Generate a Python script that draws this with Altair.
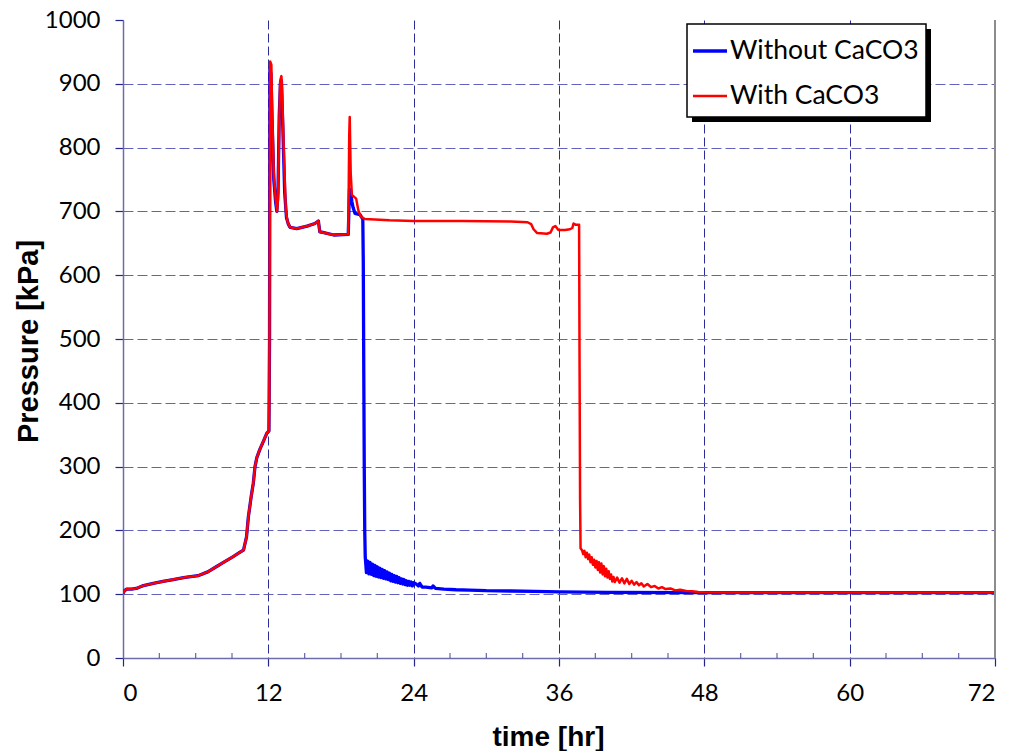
import altair as alt
import pandas as pd

# ---- measured pressure traces (time in hours, pressure in kPa) ----
# heating ramp, identical for both runs
shared_time = [0.0, 0.1, 0.3, 0.7, 1.1, 1.6, 2.5, 3.3, 4.15, 5.0, 6.2, 7.0, 7.7, 8.4,
               9.1, 9.6, 9.95, 10.2, 10.35, 10.6, 10.76, 10.9, 11.05, 11.3, 11.6, 11.87, 12.05]
shared_pressure = [101, 105, 108, 108, 109, 113, 117, 120, 123, 126, 129, 135, 143, 151,
                   159, 165, 169, 190, 221, 255, 274, 300, 314, 327, 340, 352, 356]

without_time = [12.1, 12.13, 12.22, 12.3, 12.45, 12.6, 12.7, 12.8, 12.9, 13.0, 13.08, 13.2,
                13.35, 13.5, 13.65, 13.8, 14.35, 15.2, 15.85, 16.13, 16.25, 16.5, 17.4, 18.6,
                18.7, 18.8, 18.9, 19.0, 19.15, 19.57, 19.8, 19.84, 19.88, 19.92, 19.96,
                20.0, 20.1, 20.2, 20.3, 20.4, 20.5, 20.6, 20.7, 20.8, 20.9, 21.0, 21.1, 21.2,
                21.3, 21.4, 21.5, 21.6, 21.7, 21.8, 21.9, 22.0, 22.1, 22.2, 22.3, 22.4, 22.5,
                22.6, 22.7, 22.8, 22.9, 23.0, 23.1, 23.2, 23.3, 23.4, 23.5, 23.6, 23.7, 23.8,
                23.9, 24.0, 24.2, 24.4, 24.5, 24.7, 25.0, 25.5, 25.6, 25.8, 26.5, 27.5, 28.6,
                30.0, 32.0, 34.0, 35.0, 36.0, 40.0, 48.0, 60.0, 72.0]
without_pressure = [500, 925, 915, 850, 750, 715, 700, 730, 850, 900, 905, 830,
                    730, 690, 680, 675, 673, 677, 681, 685, 668, 667, 663, 664,
                    735, 730, 715, 706, 697, 695, 688, 620, 450, 300, 200,
                    159, 134, 152, 132, 150, 131, 147, 129, 145, 128, 143, 127, 141,
                    126, 139, 125, 137, 124, 135, 123, 133, 121, 131, 120, 129, 119,
                    128, 118, 126, 117, 124, 116, 123, 115, 121, 114, 120, 114, 119,
                    113, 118, 116, 113, 117, 111, 111, 110, 113, 109, 108, 107, 106.5,
                    105.5, 105, 104.5, 104, 103.5, 103, 102.5, 102.5, 102.5]

with_time = [12.08, 12.15, 12.25, 12.3, 12.45, 12.6, 12.72, 12.8, 12.9, 12.98, 13.08, 13.15,
             13.3, 13.45, 13.6, 13.8, 14.35, 15.2, 15.85, 16.13, 16.25, 16.5, 17.4, 18.6,
             18.68, 18.72, 18.8, 18.9, 19.25, 19.43, 19.63, 19.98, 22.0, 24.0, 28.0, 32.0,
             33.4, 33.7, 33.9, 34.2, 35.0, 35.3, 35.5, 35.7, 35.95, 36.5, 36.9, 37.1, 37.2,
             37.4, 37.6, 37.66, 37.7, 37.74, 37.78, 37.9, 38.0, 38.1, 38.2, 38.3, 38.4, 38.5,
             38.6, 38.7, 38.8, 38.9, 39.0, 39.1, 39.2, 39.3, 39.4, 39.5, 39.6, 39.7, 39.8,
             39.9, 40.0, 40.1, 40.2, 40.3, 40.4, 40.5, 40.6, 40.8, 41.0, 41.2, 41.4, 41.6,
             41.8, 42.0, 42.2, 42.4, 42.6, 42.8, 43.0, 43.3, 43.6, 43.9, 44.2, 44.5, 44.8,
             45.2, 45.6, 46.0, 46.5, 47.0, 47.5, 48.0, 50.0, 60.0, 72.0]
with_pressure = [400, 935, 930, 870, 760, 720, 700, 720, 840, 905, 912, 880,
                 780, 700, 683, 675, 673, 677, 681, 685, 668, 667, 663, 664,
                 820, 848, 760, 726, 720, 702, 692, 688, 686, 685, 685, 684,
                 683, 680, 672, 666, 665, 667, 675, 677, 671, 671, 672, 674, 681,
                 679, 679, 679, 450, 250, 172, 169, 163, 168, 158, 165, 155, 162,
                 150, 158, 146, 154, 142, 152, 138, 150, 134, 148, 131, 144, 128,
                 140, 126, 136, 124, 131, 120, 127, 119, 126, 118, 125, 117, 124,
                 116, 121, 115, 119, 114, 117, 112, 116, 111, 113, 109, 111, 108,
                 109, 106, 107, 105, 104.5, 103.5, 103, 102.5, 102.5, 102.5]

series_names = ["Without CaCO3", "With CaCO3"]
series_colors = ["#0000ff", "#ff0000"]
series_widths = [3.3, 2.5]

x_major = [0, 12, 24, 36, 48, 60, 72]
x_minor = [3, 6, 9, 15, 18, 21, 27, 30, 33, 39, 42, 45, 51, 54, 57, 63, 66, 69]
y_major = [0, 100, 200, 300, 400, 500, 600, 700, 800, 900, 1000]

rows = []
for name, t_tail, p_tail in [(series_names[0], without_time, without_pressure),
                             (series_names[1], with_time, with_pressure)]:
    ts = shared_time + t_tail
    ps = shared_pressure + p_tail
    for i, (t, p) in enumerate(zip(ts, ps)):
        rows.append({"series": name, "t": t, "p": p, "idx": i})
df = pd.DataFrame(rows)

W, H = 872, 638
NAVY = "#24248a"
AXIS_LINE = "#6c6cac"

x_enc = alt.X(
    "t:Q",
    scale=alt.Scale(domain=[0, 72], nice=False, zero=False),
    axis=alt.Axis(
        values=x_major, format="d", title="time [hr]",
        grid=True, gridColor="#2c2c96", gridDash=[9, 4], gridWidth=1,
        domainColor=AXIS_LINE, domainWidth=1.5, tickColor=NAVY, tickSize=8, tickWidth=1.2,
        labelFont="Lato", labelFontSize=24, labelColor="#000000", labelPadding=15,
        titleFont="Liberation Sans", titleFontWeight="bold", titleFontSize=28,
        titleColor="#000000", titleX=425, titleY=87, titleBaseline="alphabetic",
        titleAnchor="start", titleAlign="center",
    ),
)
y_enc = alt.Y(
    "p:Q",
    scale=alt.Scale(domain=[0, 1000], nice=False),
    axis=alt.Axis(
        values=y_major, format="d", title="Pressure [kPa]",
        grid=True, gridColor="#6262bc", gridDash=[10, 4], gridWidth=1,
        gridOpacity=alt.condition("datum.value >= 1000", alt.value(0), alt.value(1)),
        domainColor=AXIS_LINE, domainWidth=1.5, tickColor=NAVY, tickSize=8, tickWidth=1.2,
        labelFont="Lato", labelFontSize=24, labelColor="#000000", labelPadding=15,
        titleFont="Liberation Sans", titleFontWeight="bold", titleFontSize=29,
        titleColor="#000000", titleX=-95, titleY=321, titleBaseline="middle",
        titleAngle=270, titleAlign="center",
    ),
)

lines = []
for name, color, width in zip(series_names, series_colors, series_widths):
    lines.append(
        alt.Chart(df)
        .transform_filter(alt.datum.series == name)
        .mark_line(color=color, strokeWidth=width, strokeJoin="round", clip=True)
        .encode(x=x_enc, y=y_enc, order="idx:Q")
    )

minor_ticks = (
    alt.Chart(pd.DataFrame({"t": x_minor, "p": [0] * len(x_minor)}))
    .mark_tick(orient="vertical", size=5, thickness=1.2, color=NAVY, yOffset=-2.5)
    .encode(x=x_enc, y=y_enc)
)

right_edge = (
    alt.Chart(pd.DataFrame({"t": [72]}))
    .mark_rule(color="#8c8c8c", strokeWidth=2)
    .encode(x=x_enc, y=alt.value(0), y2=alt.value(H))
)

# legend box with drop shadow
one = alt.Data(values=[{}])
box_l, box_r, box_t, box_b = 564, 803, 4, 97
legend_shadow = alt.Chart(one).mark_rect(color="#000000").encode(
    x=alt.value(box_l + 5), x2=alt.value(box_r + 5),
    y=alt.value(box_t + 5), y2=alt.value(box_b + 5))
legend_box = alt.Chart(one).mark_rect(fill="#ffffff", stroke="#000000", strokeWidth=1.5).encode(
    x=alt.value(box_l), x2=alt.value(box_r), y=alt.value(box_t), y2=alt.value(box_b))

legend_items = []
for k, (name, color, width) in enumerate(zip(series_names, series_colors, series_widths)):
    row_y = 31 + 45 * k
    legend_items.append(
        alt.Chart(one).mark_rule(color=color, strokeWidth=width).encode(
            x=alt.value(570), x2=alt.value(604), y=alt.value(row_y))
    )
    legend_items.append(
        alt.Chart(one).mark_text(
            text=name, font="Lato", fontSize=26.5, color="#000000",
            align="left", baseline="middle").encode(
            x=alt.value(607), y=alt.value(row_y))
    )

chart = (
    alt.layer(minor_ticks, *lines, right_edge, legend_shadow, legend_box, *legend_items)
    .properties(
        width=W, height=H,
        autosize=alt.AutoSizeParams(type="none"),
        padding={"left": 123, "top": 20, "right": 16, "bottom": 93},
        background="#ffffff",
    )
    .configure_view(stroke=None)
)

chart.save("out.html", embed_options={"renderer": "svg", "actions": False})
